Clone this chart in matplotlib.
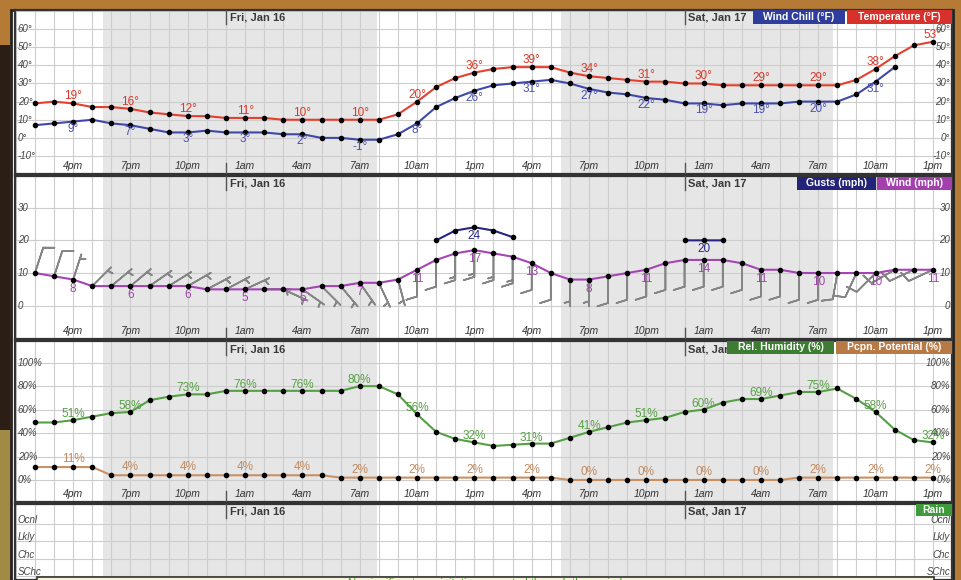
import numpy as np
import matplotlib
matplotlib.use("Agg")
import matplotlib.pyplot as plt
from matplotlib.patches import Rectangle

plt.rcParams['font.family'] = ['Liberation Sans', 'DejaVu Sans']

W, H = 961, 580
nan = np.nan

# hour index: 0 = Thu 2pm ... 47 = Sat 1pm
hours = np.arange(48)
tick_hours = list(range(2, 48, 3))
tick_labels = ['4pm', '7pm', '10pm', '1am', '4am', '7am', '10am', '1pm'] * 2
midnights = [10, 34]
day_labels = ['Fri, Jan 16', 'Sat, Jan 17']
night_spans = [(3.55, 17.9), (27.55, 41.75)]

temperature = [19, 20, 19, 17, 17, 16, 14, 13, 12, 12,
               11, 11, 11, 10, 10, 10, 10, 10, 10, 13,
               20, 28, 33, 36, 38, 39, 39, 39, 36, 34,
               33, 32, 31, 31, 30, 30, 29, 29, 29, 29,
               29, 29, 29, 32, 38, 45, 51, 53]
wind_chill = [7, 8, 9, 10, 8, 7, 5, 3, 3, 4,
              3, 3, 3, 2, 2, 0, 0, -1, -1, 2,
              8, 17, 22, 26, 29, 30, 31, 32, 30, 27,
              25, 24, 22, 21, 19, 19, 18, 19, 19, 19,
              20, 20, 20, 24, 31, 39]
wind = [10, 9, 8, 6, 6, 6, 6, 6, 6, 5,
        5, 5, 5, 5, 5, 6, 6, 7, 7, 8,
        11, 14, 16, 17, 16, 15, 13, 10, 8, 8,
        9, 10, 11, 13, 14, 14, 14, 13, 11, 11,
        10, 10, 10, 10, 10, 11, 11, 11]
gusts = [nan] * 21 + [20, 23, 24, 23, 21] + [nan] * 8 + [20, 20, 20] + [nan] * 11
wind_dir = [18, 18, 18, 45, 50, 50, 55, 58, 60, 62,
            62, 65, 90, 115, 125, 135, 140, 145, 155, 165,
            180, 180, 180, 180, 180, 180, 180, 180, 180, 180,
            180, 180, 180, 180, 180, 180, 180, 180, 180, 180,
            180, 180, 190, 205, 225, 240, 245, 245]
humidity = [49, 49, 51, 54, 57, 58, 68, 71, 73, 73,
            76, 76, 76, 76, 76, 76, 76, 80, 80, 73,
            56, 41, 35, 32, 29, 30, 31, 31, 36, 41,
            45, 49, 51, 53, 58, 60, 66, 69, 69, 72,
            75, 75, 78, 69, 58, 43, 34, 32]
pcpn = [11, 11, 11, 11, 4, 4, 4, 4, 4, 4,
        4, 4, 4, 4, 4, 4, 2, 2, 2, 2,
        2, 2, 2, 2, 2, 2, 2, 2, 0, 0,
        0, 0, 0, 0, 0, 0, 0, 0, 0, 0,
        2, 2, 2, 2, 2, 2, 2, 2]
rain_levels = ['Ocnl', 'Lkly', 'Chc', 'SChc']

XLIM = (-1.045, 47.94)


def px_rect(x0, y0, x1, y1):
    return [x0 / W, 1 - y1 / H, (x1 - x0) / W, (y1 - y0) / H]


fig = plt.figure(figsize=(W / 100, H / 100), dpi=100, facecolor='#b47a36')

# surroundings and white frame
fig.add_artist(Rectangle((0, 1 - 430 / H), 10 / W, 385 / H, transform=fig.transFigure,
                         facecolor='#2b1e14', edgecolor='none', zorder=-2))
fig.add_artist(Rectangle((0, 0), 10 / W, 150 / H, transform=fig.transFigure,
                         facecolor='#a08a45', edgecolor='none', zorder=-2))
fig.add_artist(Rectangle((10.5 / W, -0.05), 942 / W, 1.05 - 9.5 / H, transform=fig.transFigure,
                         facecolor='white', edgecolor='#222222', lw=2, zorder=-1))


def setup(ax, top, bot, ylim, grid_y, ylab_vals, ylab_txt, hour_labels=True):
    hpx = bot - top
    ax.set_xlim(XLIM)
    ax.set_ylim(ylim)
    for a, b in night_spans:
        ax.axvspan(a, b, color='#e6e6e6', lw=0, zorder=0)
    ax.set_xticks(np.arange(-1, 49))
    ax.set_yticks(grid_y)
    ax.grid(color='#cdcdcd', lw=0.8)
    ax.set_axisbelow(True)
    ax.tick_params(length=0, labelbottom=False, labelleft=False)
    for s in ax.spines.values():
        s.set_color('#333333')
        s.set_linewidth(1.6)
    yt = ax.get_yaxis_transform()
    for v, t in zip(ylab_vals, ylab_txt):
        ax.text(0.003, v, t, transform=yt, ha='left', va='center', fontsize=7,
                style='italic', color='#444444', zorder=4)
        ax.text(0.998, v, t, transform=yt, ha='right', va='center', fontsize=7,
                style='italic', color='#444444', zorder=4)
    xt = ax.get_xaxis_transform()
    if hour_labels:
        for h, t in zip(tick_hours, tick_labels):
            ax.text(h, 8 / hpx, t, transform=xt, ha='center', va='center', fontsize=7.5,
                    style='italic', color='#333333')
    for m, d in zip(midnights, day_labels):
        ax.plot([m, m], [1 - 14 / hpx, 1], transform=xt, color='#555555', lw=1, zorder=3)
        if hour_labels:
            ax.plot([m, m], [0, 11 / hpx], transform=xt, color='#555555', lw=1, zorder=3)
        ax.text(m + 0.2, 1 - 8 / hpx, d, transform=xt, ha='left', va='center',
                fontsize=8, fontweight='bold', color='#3a3a3a', zorder=4)


def legend_box(x0, y0, x1, y1, text, color):
    fig.add_artist(Rectangle((x0 / W, 1 - y1 / H), (x1 - x0) / W, (y1 - y0) / H,
                             transform=fig.transFigure, facecolor=color,
                             edgecolor='none', zorder=5))
    fig.text((x0 + x1) / 2 / W, 1 - (y0 + y1) / 2 / H, text, ha='center', va='center',
             color='white', fontsize=7.5, fontweight='bold', zorder=6)


def series(ax, xs, ys, color, lw=1.5):
    ax.plot(xs, ys, color=color, lw=lw, zorder=3)
    ax.plot(xs, ys, ls='none', marker='o', ms=3, color='black', zorder=4)


def vlabels(ax, ys, dy, color, fmt):
    for h in tick_hours:
        if h >= len(ys) or np.isnan(ys[h]):
            continue
        ax.annotate(fmt.format(int(ys[h])), (h, ys[h]), xytext=(0, dy),
                    textcoords='offset pixels', ha='center', va='center',
                    color=color, fontsize=8.5, zorder=5)


# panel 1: temperature / wind chill
ax1 = fig.add_axes(px_rect(15, 10, 952, 174))
setup(ax1, 10, 174, (-19.9, 70.5), np.arange(-10, 71, 10),
      np.arange(-10, 61, 10), [f'{v}°' for v in range(-10, 61, 10)])
series(ax1, hours[:len(wind_chill)], wind_chill, '#3f48a8')
series(ax1, hours, temperature, '#e5402e')
vlabels(ax1, np.array(temperature, float), 7, '#d8382a', '{}°')
vlabels(ax1, np.array(wind_chill, float), -7, '#4a50b0', '{}°')
legend_box(753, 10, 845, 24, 'Wind Chill (°F)', '#2f3d9c')
legend_box(847, 10, 952, 24, 'Temperature (°F)', '#d8302a')

# panel 2: wind / gusts with barbs
ax2 = fig.add_axes(px_rect(15, 176, 952, 339))
setup(ax2, 176, 339, (-10.2, 39.7), np.arange(0, 31, 10),
      [0, 10, 20, 30], ['0', '10', '20', '30'])
kt = np.array(wind) * 0.869
rad = np.radians(wind_dir)
ax2.barbs(hours, wind, -kt * np.sin(rad), -kt * np.cos(rad), length=6.2,
          color='#858585', lw=1.2, zorder=2)
series(ax2, hours, wind, '#a545b5')
series(ax2, hours, gusts, '#26267e')
vlabels(ax2, np.array(wind, float), -9, '#9e44aa', '{}')
vlabels(ax2, np.array(gusts, float), -9, '#2a2a80', '{}')
legend_box(797, 177, 876, 190, 'Gusts (mph)', '#23237a')
legend_box(877, 177, 952, 190, 'Wind (mph)', '#a43fae')

# panel 3: humidity / precipitation potential
ax3 = fig.add_axes(px_rect(15, 341, 952, 502))
setup(ax3, 341, 502, (-18.8, 118.5), np.arange(0, 101, 20),
      np.arange(0, 101, 20), [f'{v}%' for v in range(0, 101, 20)])
series(ax3, hours, humidity, '#55a045')
series(ax3, hours, pcpn, '#c99064')
vlabels(ax3, np.array(humidity, float), 6, '#56a044', '{}%')
vlabels(ax3, np.array(pcpn, float), 8, '#c08a60', '{}%')
legend_box(727, 341, 834, 354, 'Rel. Humidity (%)', '#3c7d32')
legend_box(836, 341, 952, 354, 'Pcpn. Potential (%)', '#b77a45')

# panel 4: rain
ax4 = fig.add_axes(px_rect(15, 504, 952, 580))
lev = [4, 3, 2, 1]
setup(ax4, 504, 580, (0.8, 5.14), lev, [l + 0.23 for l in lev], rain_levels,
      hour_labels=False)
legend_box(916, 504, 952, 516, 'Rain', '#3e9a3a')
fig.add_artist(Rectangle((37 / W, -0.05), 897 / W, 0.05 + 3 / H, transform=fig.transFigure,
                         facecolor='#f6f5d6', edgecolor='#333333', lw=1.2, zorder=5))
fig.text(485 / W, 2.5 / H, 'No significant precipitation expected through the period',
         ha='center', va='top', color='#5a9a3a', fontsize=8, zorder=6)

fig.savefig('out.png', dpi=100, facecolor=fig.get_facecolor())
